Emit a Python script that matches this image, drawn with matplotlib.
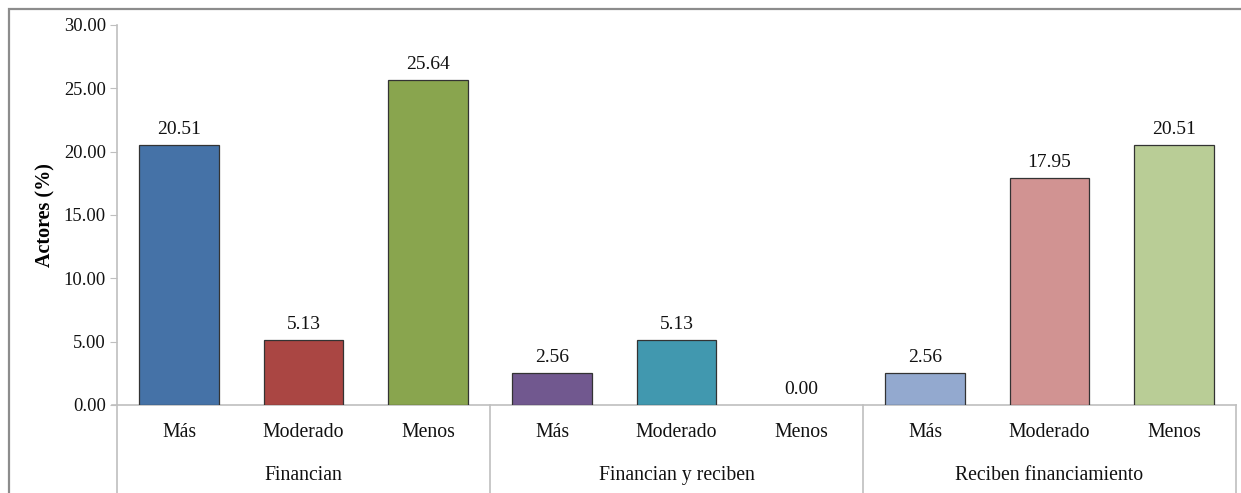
import matplotlib
matplotlib.use("Agg")
import matplotlib.pyplot as plt
from matplotlib.transforms import blended_transform_factory
from matplotlib.patches import Rectangle

# Data
groups = ["Financian", "Financian y reciben", "Reciben financiamiento"]
levels = ["Más", "Moderado", "Menos"]
values = [20.51, 5.13, 25.64,
          2.56, 5.13, 0.00,
          2.56, 17.95, 20.51]
colors = ["#4572A7", "#AA4643", "#89A54E",
          "#71588F", "#4198AF", "#DB843D",
          "#93A9CF", "#D19392", "#B9CD96"]
yticks = [0, 5, 10, 15, 20, 25, 30]

plt.rcParams["font.family"] = ["Liberation Serif", "DejaVu Serif"]

fig = plt.figure(figsize=(12.41, 4.93), dpi=100)
ax = fig.add_axes([0.0943, 0.1785, 0.9017, 0.7708])

x = list(range(len(values)))
edges = ["#333333" if v > 0 else "none" for v in values]
ax.bar(x, values, width=0.64, color=colors, edgecolor=edges, linewidth=0.9, zorder=3)
for xi, v in zip(x, values):
    ax.annotate(f"{v:.2f}", (xi, v), xytext=(0, 5), textcoords="offset points",
                ha="center", va="bottom", fontsize=14, color="#111111")

ax.set_xlim(-0.5, len(values) - 0.5)
ax.set_ylim(0, 30)
ax.set_yticks(yticks)
ax.set_yticklabels([f"{t:.2f}" for t in yticks], fontsize=13.3, color="#111111")
ax.tick_params(axis="y", direction="out", length=5, color="#BFBFBF", pad=3)
ax.set_xticks([])
for s in ["top", "right"]:
    ax.spines[s].set_visible(False)
ax.spines["left"].set_color("#BFBFBF")
ax.spines["bottom"].set_color("#BFBFBF")
ax.spines["left"].set_linewidth(1.2)
ax.spines["bottom"].set_linewidth(1.2)

ax.set_ylabel("Actores (%)", fontsize=14.5, fontweight="bold")
ax.yaxis.set_label_coords(-0.0554, 0.5)

# Category and group labels beneath the axis
trans = blended_transform_factory(ax.transData, ax.transAxes)
for i, xi in enumerate(x):
    ax.text(xi, -0.072, levels[i % 3], transform=trans, ha="center", va="center",
            fontsize=14.2, color="#111111")
for g, name in enumerate(groups):
    ax.text(3 * g + 1, -0.185, name, transform=trans, ha="center", va="center",
            fontsize=14.2, color="#111111")
for sep in [-0.5, 2.5, 5.5, 8.5]:
    ax.plot([sep, sep], [0, -0.3], transform=trans, color="#BFBFBF", lw=1.2, clip_on=False)
# Small tick to the left of the zero line
ax.plot([-0.5 - 0.04, -0.5], [0, 0], transform=trans, color="#BFBFBF", lw=1.2, clip_on=False)

# Outer chart frame
fig.patches.append(Rectangle((9 / 1241, -0.1), 1.2, 1 - 9 / 493 + 0.1, transform=fig.transFigure,
                             fill=False, edgecolor="#8C8C8C", linewidth=1.6))

fig.savefig("out.png", dpi=100)
